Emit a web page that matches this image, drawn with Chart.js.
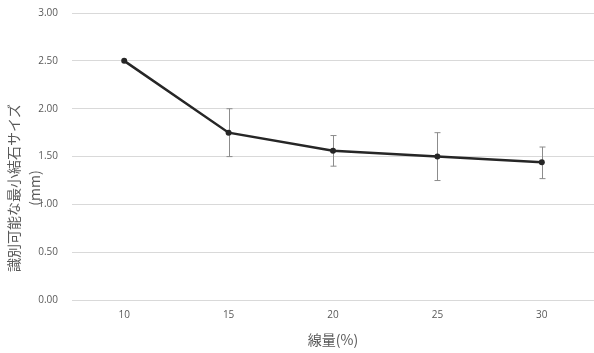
<!DOCTYPE html>
<html>
<head>
<meta charset="utf-8">
<script src="https://cdn.jsdelivr.net/npm/chart.js@4.4.0/dist/chart.umd.min.js"></script>
<style>
  body { margin: 0; background: #fff; }
  #wrap { width: 594px; height: 353px; }
</style>
</head>
<body>
<div id="wrap"><canvas id="chart" width="594" height="353"></canvas></div>
<script>
// data
const doses = ['10', '15', '20', '25', '30'];
const minSize = [2.50, 1.75, 1.56, 1.50, 1.44];
const errUp = [0, 0.25, 0.16, 0.25, 0.16];
const errDown = [0, 0.25, 0.16, 0.25, 0.17];
const yTitle = ['識別可能な最小結石サイズ', '(mm)'];

const labelFont = "'Open Sans', 'Noto Sans CJK JP', sans-serif";
const cjkFont = "'Noto Sans CJK JP', sans-serif";

// simple error bar plugin, uses the chart's scales
const errorBars = {
    id: 'errorBars',
    beforeDatasetsDraw(chart) {
        const ctx = chart.ctx;
        const x = chart.scales.x;
        const y = chart.scales.y;
        ctx.save();
        ctx.strokeStyle = '#8c8c8c';
        ctx.lineWidth = 1;
        minSize.forEach((v, i) => {
            if (!errUp[i] && !errDown[i]) return;
            const px = Math.round(x.getPixelForValue(i)) + 0.5;
            const top = y.getPixelForValue(v + errUp[i]);
            const bot = y.getPixelForValue(v - errDown[i]);
            ctx.beginPath();
            ctx.moveTo(px, top);
            ctx.lineTo(px, bot);
            ctx.moveTo(px - 3, top);
            ctx.lineTo(px + 3, top);
            ctx.moveTo(px - 3, bot);
            ctx.lineTo(px + 3, bot);
            ctx.stroke();
        });
        ctx.restore();
    }
};

// y title sits lower than the axis centre in the original, so draw it by hand
const sideTitle = {
    id: 'sideTitle',
    afterDraw(chart) {
        const ctx = chart.ctx;
        ctx.save();
        ctx.fillStyle = '#595959';
        ctx.font = '14px ' + cjkFont;
        ctx.textAlign = 'center';
        ctx.textBaseline = 'middle';
        ctx.translate(14, 188);
        ctx.rotate(-Math.PI / 2);
        ctx.fillText(yTitle[0], 0, 0);
        ctx.fillText(yTitle[1], 0, 21);
        ctx.restore();
    }
};

new Chart(document.getElementById('chart').getContext('2d'), {
    type: 'line',
    data: {
        labels: doses,
        datasets: [{
            data: minSize,
            borderColor: '#262626',
            backgroundColor: '#262626',
            borderWidth: 2.5,
            pointRadius: 3,
            pointBorderWidth: 0,
            tension: 0
        }]
    },
    options: {
        responsive: false,
        devicePixelRatio: 1,
        animation: false,
        layout: { autoPadding: false, padding: { top: 13, right: 0, left: 0, bottom: 5 } },
        plugins: {
            legend: { display: false },
            tooltip: { enabled: false }
        },
        scales: {
            x: {
                offset: true,
                grid: { display: false, drawTicks: false },
                border: { display: false },
                ticks: { color: '#595959', font: { family: labelFont, size: 10 }, padding: 9 },
                title: {
                    display: true,
                    text: '線量(%)',
                    color: '#595959',
                    font: { family: cjkFont, size: 14 },
                    padding: { top: 1, bottom: 0 }
                }
            },
            y: {
                min: 0,
                max: 3,
                afterFit: s => {
                    s.width = 72;
                    s.paddingTop = 6;
                },
                ticks: {
                    stepSize: 0.5,
                    color: '#595959',
                    font: { family: labelFont, size: 10 },
                    padding: 14,
                    callback: v => v.toFixed(2)
                },
                grid: { color: '#d9d9d9', drawTicks: false },
                border: { display: false }
            }
        }
    },
    plugins: [errorBars, sideTitle]
});
</script>
</body>
</html>
